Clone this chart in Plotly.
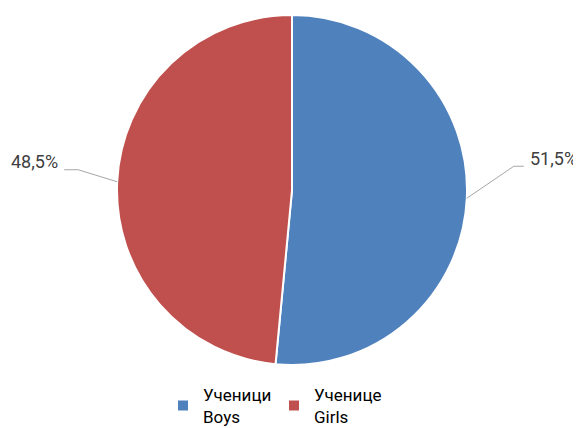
import math
import plotly.graph_objects as go

labels = ["Ученици<br>Boys", "Ученице<br>Girls"]
values = [51.5, 48.5]
colors = ["#4F81BD", "#C0504D"]

W, H = 581, 428
OFF = 8                            # page body margin shifts the figure by 8 px
CX, CY, R = 292 - OFF, 190 - OFF, 175   # pie centre / radius in figure pixels
FONT = "Roboto, Liberation Sans, sans-serif"
# leader-line knee offsets (pixels, y down) and horizontal tail lengths per slice
knee = [(47, -32), (-39, -12)]
tail = [10, -14]

def px(x):
    return x / W

def py(y):
    return 1 - y / H

fig = go.Figure(go.Pie(
    labels=labels, values=values, sort=False, direction="clockwise",
    marker=dict(colors=colors, line=dict(color="white", width=2)),
    textinfo="none", hoverinfo="label+percent", showlegend=True,
    domain=dict(x=[px(CX - R), px(CX + R)], y=[py(CY + R), py(CY - R)]),
))

total = sum(values)
cum = 0
shapes, annots = [], []
for i, v in enumerate(values):
    mid = (cum + v / 2) / total * 2 * math.pi
    cum += v
    ex, ey = CX + R * math.sin(mid), CY - R * math.cos(mid)
    side = 1 if math.sin(mid) > 0 else -1
    kx, ky = ex + knee[i][0], ey + knee[i][1]
    hx = kx + tail[i]
    shapes.append(dict(type="path", xref="paper", yref="paper",
                       path=f"M {px(ex)} {py(ey)} L {px(kx)} {py(ky)} L {px(hx)} {py(ky)}",
                       line=dict(color="#A6A6A6", width=1)))
    txt = f"{v:.1f}%".replace(".", ",")
    annots.append(dict(x=px(hx + side * 4), y=py(ky - 8), xref="paper", yref="paper",
                       text=txt, showarrow=False,
                       xanchor="left" if side > 0 else "right", yanchor="middle",
                       font=dict(size=18, color="#404040", family=FONT)))

fig.update_layout(
    width=W, height=H,
    margin=dict(l=0, r=0, t=0, b=0),
    paper_bgcolor="white", plot_bgcolor="white",
    font=dict(family=FONT, size=17, color="#000000"),
    shapes=shapes, annotations=annots,
    legend=dict(orientation="h", x=px(163 - OFF), xanchor="left", y=py(377 - OFF), yanchor="top",
                font=dict(size=17, color="#000000", family=FONT),
                entrywidth=66, entrywidthmode="pixels", traceorder="normal"),
)

fig.write_html("out.html")
